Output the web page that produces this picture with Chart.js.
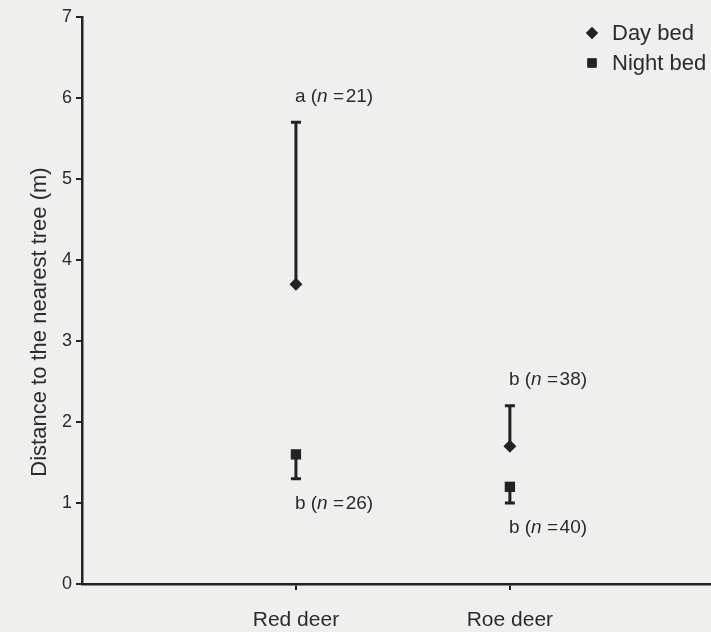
<!DOCTYPE html>
<html>
<head>
<meta charset="utf-8">
<script src="https://cdn.jsdelivr.net/npm/chart.js@4.4.0/dist/chart.umd.min.js"></script>
<style>
  html, body { margin: 0; padding: 0; background: #efefed; }
  #wrap { width: 711px; height: 632px; }
</style>
</head>
<body>
<div id="wrap"><canvas id="bedChart" width="711" height="632"></canvas></div>
<script>
// categories on the x axis (placed at x = 1, 2)
const categories = ["Red deer", "Roe deer"];
const categoryPos = [1, 2];

// day beds: mean and upper end of the bar
const dayBedMean = [3.7, 1.7];
const dayBedUpper = [5.7, 2.2];
const dayLetters = ["a", "b"];
const dayN = [21, 38];

// night beds: mean and lower end of the bar
const nightBedMean = [1.6, 1.2];
const nightBedLower = [1.3, 1.0];
const nightLetters = ["b", "b"];
const nightN = [26, 40];

const yTicks = [0, 1, 2, 3, 4, 5, 6, 7];
const yTitle = "Distance to the nearest tree (m)";

const ink = "#222";
const textCol = "#2b2b2b";
const font = "'Liberation Sans', Arial, sans-serif";

const errorBars = {
  id: "errorBars",
  beforeDatasetsDraw(chart) {
    const { ctx, scales: { x, y } } = chart;
    ctx.save();
    ctx.strokeStyle = ink;
    ctx.lineWidth = 3;
    const cap = 5;
    const bar = (xv, y0, y1) => {
      const px = x.getPixelForValue(xv);
      const a = y.getPixelForValue(y0);
      const b = y.getPixelForValue(y1);
      ctx.beginPath();
      ctx.moveTo(px, a);
      ctx.lineTo(px, b);
      ctx.moveTo(px - cap, b);
      ctx.lineTo(px + cap, b);
      ctx.stroke();
    };
    categoryPos.forEach((xv, i) => {
      bar(xv, dayBedMean[i], dayBedUpper[i]);
      bar(xv, nightBedMean[i], nightBedLower[i]);
    });
    ctx.restore();
  },
  afterDatasetsDraw(chart) {
    const { ctx, scales: { x, y } } = chart;
    ctx.save();
    ctx.fillStyle = textCol;
    ctx.textBaseline = "middle";
    const note = (px, py, letter, n) => {
      const size = 19;
      const up = size + "px " + font;
      const it = "italic " + size + "px " + font;
      let cx = px;
      const parts = [[letter + " (", up], ["n", it], [" =\u200A" + n + ")", up]];
      parts.forEach(([t, f]) => {
        ctx.font = f;
        ctx.fillText(t, cx, py);
        cx += ctx.measureText(t).width;
      });
    };
    categoryPos.forEach((xv, i) => {
      const px = x.getPixelForValue(xv) - 1;
      note(px, y.getPixelForValue(dayBedUpper[i]) - 26, dayLetters[i], dayN[i]);
      note(px, y.getPixelForValue(nightBedLower[i]) + 25, nightLetters[i], nightN[i]);
    });

    // legend, top right
    const items = [["Day bed", "rectRot", 6], ["Night bed", "rect", 6.5]];
    ctx.font = "22px " + font;
    items.forEach(([label, style, r], k) => {
      const ly = 33 + k * 30;
      ctx.fillStyle = ink;
      Chart.helpers.drawPoint(ctx, { pointStyle: style, radius: r, borderWidth: 0 }, 592, ly);
      ctx.fill();
      ctx.fillStyle = textCol;
      ctx.fillText(label, 612, ly + 1);
    });

    // y axis title
    ctx.translate(40, 322);
    ctx.rotate(-Math.PI / 2);
    ctx.textAlign = "center";
    ctx.font = "22px " + font;
    ctx.fillText(yTitle, 0, 0);
    ctx.restore();
  }
};

new Chart(document.getElementById("bedChart"), {
  type: "scatter",
  data: {
    datasets: [
      {
        label: "Day bed",
        data: categoryPos.map((xv, i) => ({ x: xv, y: dayBedMean[i] })),
        pointStyle: "rectRot",
        pointRadius: 6.5,
        backgroundColor: ink,
        borderColor: ink,
        borderWidth: 0
      },
      {
        label: "Night bed",
        data: categoryPos.map((xv, i) => ({ x: xv, y: nightBedMean[i] })),
        pointStyle: "rect",
        pointRadius: 7.3,
        backgroundColor: ink,
        borderColor: ink,
        borderWidth: 0
      }
    ]
  },
  options: {
    responsive: false,
    animation: false,
    layout: { autoPadding: false, padding: { top: 17, right: 0, left: 0, bottom: 0 } },
    plugins: {
      legend: { display: false },
      tooltip: { enabled: false }
    },
    scales: {
      x: {
        type: "linear",
        min: 0,
        max: 2.94,
        afterBuildTicks: (s) => { s.ticks = categoryPos.map(v => ({ value: v })); },
        afterFit: (s) => { s.height = 48; s.paddingLeft = 0; s.paddingRight = 0; },
        ticks: {
          callback: (v) => categories[categoryPos.indexOf(v)] || "",
          color: textCol,
          font: { family: font, size: 21 },
          padding: 18,
          maxRotation: 0
        },
        grid: { drawOnChartArea: false, drawTicks: true, tickLength: 6, color: ink, lineWidth: 2 },
        border: { display: true, color: ink, width: 2.5 }
      },
      y: {
        min: 0,
        max: 7,
        afterBuildTicks: (s) => { s.ticks = yTicks.map(v => ({ value: v })); },
        afterFit: (s) => { s.width = 82; s.paddingTop = 0; s.paddingBottom = 0; },
        ticks: {
          color: textCol,
          font: { family: font, size: 18 },
          padding: 4
        },
        grid: { drawOnChartArea: false, drawTicks: true, tickLength: 6, color: ink, lineWidth: 2 },
        border: { display: true, color: ink, width: 2.5 }
      }
    }
  },
  plugins: [errorBars]
});
</script>
</body>
</html>
